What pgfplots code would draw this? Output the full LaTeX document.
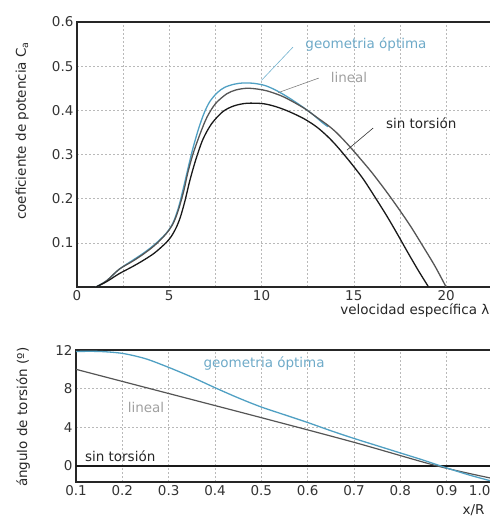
\documentclass[border=0pt]{standalone}
\usepackage{pgfplots}
\pgfplotsset{compat=1.18}
\usepackage{fontspec}
\setmainfont{DejaVu Sans}
\definecolor{optblue}{RGB}{80,160,195}
\definecolor{opttext}{RGB}{110,170,200}
\definecolor{linegray}{RGB}{85,85,85}
\definecolor{lintext}{RGB}{160,160,160}
\definecolor{gridgray}{RGB}{185,185,185}
\newcommand{\fs}{\fontsize{13.5}{16}\selectfont}
\pgfplotsset{
  common/.style={
    scale only axis,
    axis line style={line width=1.3pt, black!85},
    grid=both,
    major grid style={gridgray, dash pattern=on 2pt off 2pt, line width=0.5pt},
    minor grid style={gridgray, dash pattern=on 2pt off 2pt, line width=0.5pt},
    major tick length=0pt, minor tick length=0pt,
    tick label style={font=\fs, black!80},
    label style={font=\fs, black!85},
    /pgf/number format/assume math mode=true,
    clip=true,
  }
}
\begin{document}
\begin{tikzpicture}
% ---------- upper panel ----------
\begin{axis}[common,
  at={(77pt,233pt)}, anchor=south west,
  width=418pt, height=265pt,
  xmin=0, xmax=22.65, ymin=0, ymax=0.6,
  xtick={0,5,10,15,20}, minor xtick={2.5,7.5,12.5,17.5},
  ytick={0.1,0.2,0.3,0.4,0.5,0.6},
  yticklabel style={/pgf/number format/fixed, /pgf/number format/precision=1},
  xlabel={velocidad específica λ},
  xlabel style={at={(axis description cs:0.995,-0.087)}, anchor=east},
  ylabel={coeficiente de potencia C\textsubscript{a}},
  ylabel style={at={(axis description cs:-0.131,0.589)}, anchor=center},
]
\addplot[optblue, line width=1.3pt, smooth] coordinates {
 (1.03,0) (1.6,0.014) (2.28,0.040) (3.0,0.060) (3.58,0.076) (4.2,0.096) (4.82,0.121)
 (5.2,0.145) (5.5,0.18) (5.8,0.23) (6.05,0.275) (6.3,0.317) (6.6,0.360) (6.9,0.395)
 (7.2,0.420) (7.6,0.440) (8.0,0.452) (8.5,0.459) (9.0,0.462) (9.6,0.461) (10.2,0.456)
 (10.8,0.445) (11.5,0.428) (12.25,0.407) (12.8,0.390) (13.3,0.372) (13.6,0.363)
};
\addplot[linegray, line width=1.3pt, smooth] coordinates {
 (1.03,0) (1.6,0.014) (2.28,0.040) (3.0,0.058) (3.58,0.074) (4.2,0.094) (4.82,0.120)
 (5.2,0.143) (5.5,0.175) (5.8,0.220) (6.0,0.258) (6.3,0.303) (6.7,0.350) (7.05,0.385)
 (7.5,0.415) (8.1,0.437) (8.6,0.446) (9.2,0.450) (9.8,0.448) (10.3,0.444)
 (11.0,0.434) (11.5,0.424) (12.3,0.405) (13.0,0.384) (13.6,0.366) (14.1,0.348)
 (14.8,0.317) (15.4,0.288) (16.0,0.258) (16.8,0.214) (17.5,0.173) (18.1,0.136)
 (18.75,0.092) (19.4,0.047) (20.0,0.0)
};
\addplot[black!90, line width=1.3pt, smooth] coordinates {
 (1.03,0) (1.6,0.012) (2.28,0.030) (3.0,0.046) (3.58,0.060) (4.2,0.077) (4.82,0.100)
 (5.1,0.114) (5.37,0.134) (5.6,0.158) (5.85,0.195) (6.12,0.242) (6.45,0.290)
 (6.83,0.335) (7.3,0.370) (7.9,0.397) (8.5,0.410) (9.2,0.416) (10.1,0.415)
 (10.8,0.408) (11.5,0.397) (12.3,0.381) (13.0,0.362) (13.6,0.340) (14.1,0.318)
 (14.8,0.283) (15.5,0.245) (16.2,0.200) (16.8,0.160) (17.4,0.117) (17.9,0.080)
 (18.5,0.037) (19.05,0.0)
};
\draw[optblue!80, line width=0.6pt] (axis cs:11.7,0.543) -- (axis cs:10.0,0.468);
\draw[gray, line width=0.6pt] (axis cs:13.1,0.473) -- (axis cs:10.9,0.440);
\draw[black!80, line width=0.6pt] (axis cs:16.05,0.36) -- (axis cs:14.63,0.31);
\node[opttext, font=\fs] at (axis cs:15.66,0.548) {geometria óptima};
\node[lintext, font=\fs] at (axis cs:14.74,0.475) {lineal};
\node[black!85, font=\fs] at (axis cs:18.65,0.371) {sin torsión};
\end{axis}
% ---------- lower panel ----------
\begin{axis}[common,
  at={(76pt,38pt)}, anchor=south west,
  width=417pt, height=132pt,
  xmin=0.1, xmax=1.0, ymin=-1.655, ymax=12,
  xtick={0.1,0.2,...,0.9},
  extra x ticks={1.0},
  extra x tick style={grid=major, xticklabel style={anchor=north east, xshift=1pt}},
  xticklabel style={/pgf/number format/fixed, /pgf/number format/precision=1, /pgf/number format/fixed zerofill},
  ytick={0,4,8,12},
  xlabel={x/R},
  xlabel style={at={(axis description cs:0.988,-0.21)}, anchor=east},
  ylabel={ángulo de torsión (º)},
  ylabel style={at={(axis description cs:-0.127,0.49)}, anchor=center},
]
\addplot[black!90, line width=1.8pt] coordinates {(0.1,0) (1.0,0)};
\addplot[linegray, line width=1.2pt, smooth] coordinates {
 (0.1,10.0) (0.3,7.5) (0.5,5.0) (0.7,2.45) (0.88,0.0) (1.0,-1.3)
};
\addplot[optblue, line width=1.3pt, smooth] coordinates {
 (0.1,11.85) (0.15,11.85) (0.2,11.65) (0.25,11.1) (0.3,10.2) (0.35,9.2) (0.4,8.1)
 (0.45,7.05) (0.5,6.1) (0.55,5.3) (0.6,4.5) (0.65,3.65) (0.7,2.85) (0.75,2.1)
 (0.8,1.35) (0.85,0.6) (0.9,-0.2) (0.95,-0.95) (1.0,-1.6)
};
\node[opttext, font=\fs] at (axis cs:0.506,10.65) {geometria óptima};
\node[lintext, font=\fs] at (axis cs:0.251,6.1) {lineal};
\node[black!85, font=\fs, anchor=base west, inner sep=0pt] at (axis cs:0.119,0.45) {sin torsión};
\end{axis}
\pgfresetboundingbox
\path (0pt,0pt) rectangle (490pt,520pt);
\end{tikzpicture}
\end{document}
